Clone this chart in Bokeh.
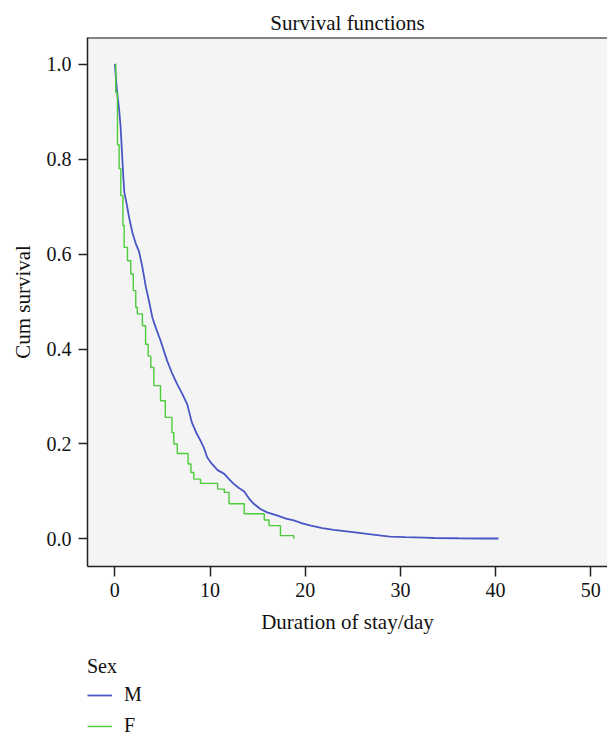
from bokeh.plotting import figure
from bokeh.layouts import column
from bokeh.models import Range1d, FixedTicker, PrintfTickFormatter, Legend, LegendItem, Span
from bokeh.embed import file_html
from bokeh.resources import INLINE

# ---- data ----
sex_labels = ["M", "F"]
group_title = "Sex"

m_time = [0, 0.1, 0.2, 0.3, 0.45, 0.6, 0.75, 0.9, 1.0, 1.25, 1.5, 1.85, 2.2, 2.55, 2.9,
          3.25, 3.6, 3.95, 4.3, 4.8, 5.5, 6.0, 6.55, 7.1, 7.6, 8.1, 8.6, 9.0, 9.4, 9.7,
          10.2, 10.8, 11.5, 12.0, 12.5, 13.0, 13.6, 14.1, 14.6, 15.3, 16.0, 17.1, 18.0,
          18.8, 19.7, 20.6, 21.8, 23.0, 24.8, 26.5, 28.0, 28.9, 30.5, 32.5, 33.5, 36.0,
          38.8, 40.3]
m_surv = [1.0, 0.975, 0.95, 0.93, 0.905, 0.87, 0.815, 0.76, 0.73, 0.705, 0.677, 0.645,
          0.622, 0.605, 0.572, 0.532, 0.5, 0.466, 0.445, 0.418, 0.375, 0.35, 0.326, 0.305,
          0.284, 0.245, 0.222, 0.207, 0.19, 0.172, 0.158, 0.145, 0.137, 0.126, 0.116,
          0.108, 0.1, 0.085, 0.074, 0.063, 0.056, 0.049, 0.043, 0.039, 0.033, 0.028,
          0.023, 0.019, 0.015, 0.0105, 0.007, 0.005, 0.004, 0.003, 0.002, 0.0015, 0.001,
          0.001]

f_time = [0, 0.1, 0.28, 0.45, 0.63, 0.85, 0.98, 1.33, 1.68, 1.94, 2.2, 2.36, 2.9, 3.23,
          3.5, 3.78, 4.1, 4.8, 5.3, 6.0, 6.2, 6.56, 7.7, 8.0, 8.3, 9.0, 10.8, 11.5, 12.0,
          13.6, 15.7, 16.2, 17.4, 18.8]
f_surv = [1.0, 0.94, 0.83, 0.78, 0.723, 0.66, 0.614, 0.586, 0.558, 0.523, 0.488, 0.474,
          0.449, 0.41, 0.385, 0.361, 0.323, 0.291, 0.256, 0.224, 0.2, 0.18, 0.158, 0.14,
          0.126, 0.117, 0.105, 0.098, 0.074, 0.053, 0.04, 0.028, 0.007, 0.0]

x_ticks = [0, 10, 20, 30, 40, 50]
y_ticks = [0.0, 0.2, 0.4, 0.6, 0.8, 1.0]

title_text = "Survival functions"
x_label = "Duration of stay/day"
y_label = "Cum survival"

# ---- styling ----
FONT = "Liberation Serif"
FS = "20px"
FS_LAB = "21px"
M_COLOR = "#4a56c6"
F_COLOR = "#4ccc3a"
M_STYLE = dict(line_color=M_COLOR, line_width=1.8)
F_STYLE = dict(line_color=F_COLOR, line_width=1.4)

X0, X1 = -2.87, 51.76
Y0, Y1 = -0.058, 1.056

p = figure(width=607, height=645,
           x_range=Range1d(X0, X1), y_range=Range1d(Y0, Y1),
           output_backend="svg", toolbar_location=None,
           min_border_left=87, min_border_right=0,
           min_border_top=37, min_border_bottom=79,
           background_fill_color="#f4f4f4", border_fill_color="white",
           outline_line_color=None)

p.title.text = title_text
p.title.align = "center"
p.title.offset = 4
p.title.text_font = FONT
p.title.text_font_size = FS_LAB
p.title.text_font_style = "normal"
p.title.text_color = "#111111"
p.title.standoff = 5

p.xgrid.visible = False
p.ygrid.visible = False

rM = p.line(m_time, m_surv, **M_STYLE)
rF = p.step(f_time, f_surv, mode="after", **F_STYLE)

# top frame border
p.add_layout(Span(location=Y1, dimension="width", line_color="#111111", line_width=2))

for ax in (p.xaxis[0], p.yaxis[0]):
    ax.axis_line_color = "#222222"
    ax.axis_line_width = 1.5
    ax.major_tick_line_color = "#222222"
    ax.major_tick_line_width = 1.5
    ax.major_tick_in = 0
    ax.minor_tick_line_color = None
    ax.major_label_text_font = FONT
    ax.major_label_text_font_size = FS
    ax.major_label_text_color = "#111111"
    ax.axis_label_text_font = FONT
    ax.axis_label_text_font_size = FS_LAB
    ax.axis_label_text_font_style = "normal"
    ax.axis_label_text_color = "#111111"

xa = p.xaxis[0]
xa.ticker = FixedTicker(ticks=x_ticks)
xa.major_tick_out = 10
xa.major_label_standoff = 6
xa.axis_label = x_label
xa.axis_label_standoff = 10

ya = p.yaxis[0]
ya.ticker = FixedTicker(ticks=y_ticks)
ya.formatter = PrintfTickFormatter(format="%.1f")
ya.major_tick_out = 9
ya.major_label_standoff = 7
ya.axis_label = y_label
ya.axis_label_standoff = 9

# ---- legend strip below the chart ----
# same series, but the strip's view range lies outside the data,
# so only the legend itself is visible there
pl = figure(width=607, height=92, output_backend="svg", toolbar_location=None,
            x_range=Range1d(-20, -10), y_range=Range1d(0, 1),
            min_border_left=87, min_border_right=0, min_border_top=10, min_border_bottom=0,
            outline_line_color=None, background_fill_color="white",
            border_fill_color="white")
pl.axis.visible = False
pl.xgrid.visible = False
pl.ygrid.visible = False
lM = pl.line(m_time, m_surv, **M_STYLE)
lF = pl.step(f_time, f_surv, mode="after", **F_STYLE)

legend = Legend(
    items=[LegendItem(label=sex_labels[0], renderers=[lM]),
           LegendItem(label=sex_labels[1], renderers=[lF])],
    title=group_title,
    location="top_left",
    orientation="vertical",
    padding=0, margin=0, spacing=8,
    glyph_width=25, glyph_height=20, label_height=20,
    label_standoff=12, title_standoff=5,
    border_line_color=None, background_fill_alpha=0,
    label_text_font=FONT, label_text_font_size=FS, label_text_color="#111111",
    title_text_font=FONT, title_text_font_size=FS, title_text_font_style="normal",
    title_text_color="#111111",
)
pl.add_layout(legend)

layout = column(p, pl, spacing=0)
open("out.html", "w").write(file_html(layout, INLINE))
